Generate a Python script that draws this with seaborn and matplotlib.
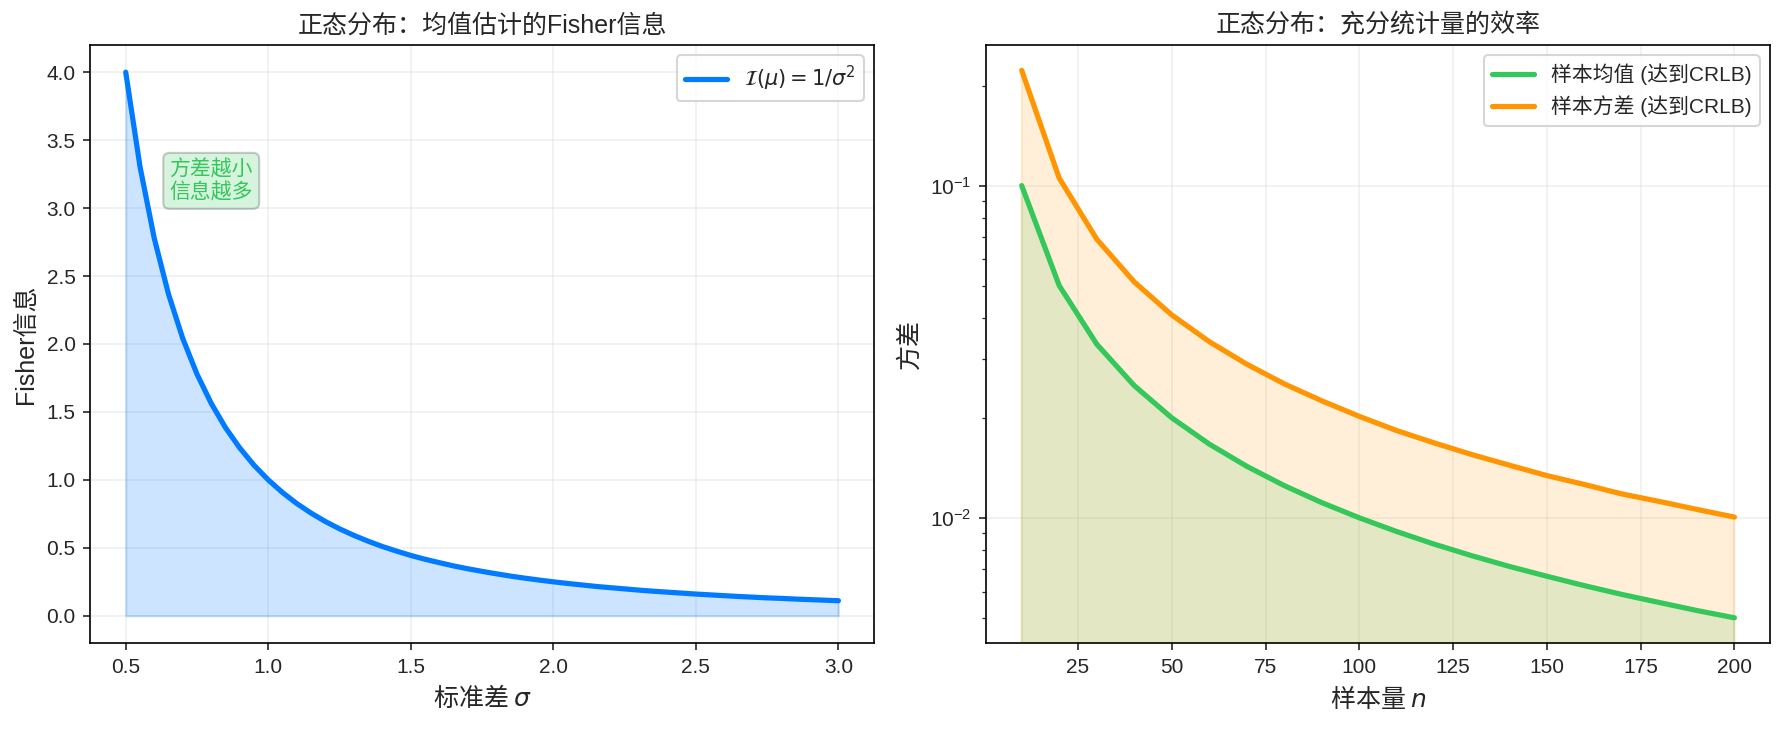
import matplotlib
matplotlib.use("Agg")
import matplotlib.pyplot as plt
import seaborn as sns
import pandas as pd

sns.set_style("ticks")
plt.rcParams['font.family'] = ['Liberation Sans', 'Noto Sans CJK SC', 'DejaVu Sans']
plt.rcParams['axes.unicode_minus'] = False

sigma = [0.50, 0.55, 0.60, 0.65, 0.70, 0.75, 0.80, 0.85, 0.90, 0.95, 1.00, 1.05, 1.10, 1.15,
         1.20, 1.25, 1.30, 1.35, 1.40, 1.45, 1.50, 1.55, 1.60, 1.65, 1.70, 1.75, 1.80, 1.85,
         1.90, 1.95, 2.00, 2.05, 2.10, 2.15, 2.20, 2.25, 2.30, 2.35, 2.40, 2.45, 2.50, 2.55,
         2.60, 2.65, 2.70, 2.75, 2.80, 2.85, 2.90, 2.95, 3.00]
fisher = [4.000, 3.306, 2.778, 2.367, 2.041, 1.778, 1.563, 1.384, 1.235, 1.108, 1.000, 0.907,
          0.826, 0.756, 0.694, 0.640, 0.592, 0.549, 0.510, 0.476, 0.444, 0.416, 0.391, 0.367,
          0.346, 0.327, 0.309, 0.292, 0.277, 0.263, 0.250, 0.238, 0.227, 0.216, 0.207, 0.198,
          0.189, 0.181, 0.174, 0.167, 0.160, 0.154, 0.148, 0.142, 0.137, 0.132, 0.128, 0.123,
          0.119, 0.115, 0.111]

n_vals = [10, 20, 30, 40, 50, 60, 70, 80, 90, 100, 110, 120, 130, 140, 150, 160, 170, 180, 190, 200]
mean_var = [0.1, 0.05, 0.03333, 0.025, 0.02, 0.01667, 0.01429, 0.0125, 0.01111, 0.01, 0.00909,
            0.00833, 0.00769, 0.00714, 0.00667, 0.00625, 0.00588, 0.00556, 0.00526, 0.005]
s2_var = [0.2222, 0.1053, 0.0690, 0.0513, 0.0408, 0.0339, 0.0290, 0.0253, 0.0225, 0.0202, 0.0183,
          0.0168, 0.0155, 0.0144, 0.0134, 0.0126, 0.0118, 0.0112, 0.0106, 0.01005]

BLUE = '#007AFF'
GREEN = '#34C759'
ORANGE = '#FF9500'
CJK = 'Noto Sans CJK SC'

fig, axes = plt.subplots(1, 2, figsize=(11.893, 4.86), dpi=150)

# Left
ax = axes[0]
df1 = pd.DataFrame({'sigma': sigma, 'fisher': fisher})
sns.lineplot(data=df1, x='sigma', y='fisher', ax=ax, color=BLUE, linewidth=2.5,
             label=r'$\mathcal{I}(\mu) = 1/\sigma^2$')
ax.fill_between(sigma, fisher, 0, color=BLUE, alpha=0.2)
ax.set_xlabel(r'标准差 $\sigma$', fontsize=12, family=CJK)
ax.set_ylabel('Fisher信息', fontsize=12)
ax.set_title('正态分布：均值估计的Fisher信息', fontsize=12)
ax.grid(True, alpha=0.3)
ax.legend(loc='upper right', fontsize=10)
ax.text(0.8, 3.2, '方差越小\n信息越多', fontsize=10, color=GREEN, ha='center', va='center',
        bbox=dict(boxstyle='round', facecolor=GREEN, alpha=0.2, edgecolor='black'))

# Right
ax = axes[1]
df2 = pd.DataFrame({'n': n_vals + n_vals,
                    'var': mean_var + s2_var,
                    'est': ['样本均值 (达到CRLB)'] * len(n_vals) + ['样本方差 (达到CRLB)'] * len(n_vals)})
sns.lineplot(data=df2, x='n', y='var', hue='est', ax=ax, palette=[GREEN, ORANGE], linewidth=2.5)
ax.fill_between(n_vals, mean_var, 0, color=GREEN, alpha=0.15)
ax.fill_between(n_vals, s2_var, 0, color=ORANGE, alpha=0.15)
ax.set_yscale('log')
ax.set_ylim(0.0042, 0.265)
ax.set_xlabel(r'样本量 $n$', fontsize=12, family=CJK)
ax.set_ylabel('方差', fontsize=12)
ax.set_title('正态分布：充分统计量的效率', fontsize=12)
ax.grid(True, alpha=0.3)
ax.legend(loc='upper right', fontsize=10, title=None)

for a in axes:
    for s in a.spines.values():
        s.set_color('black')

fig.subplots_adjust(left=0.0505, right=0.9922, top=0.9383, bottom=0.118, wspace=0.1429)
fig.savefig('out.png', dpi=150)
